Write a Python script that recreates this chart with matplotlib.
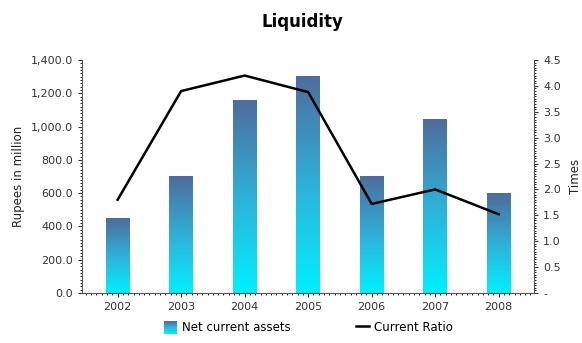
import numpy as np
import matplotlib.pyplot as plt
from matplotlib.colors import LinearSegmentedColormap
from matplotlib.patches import Rectangle
from matplotlib.lines import Line2D
from matplotlib.legend_handler import HandlerBase
from matplotlib.ticker import FuncFormatter, MultipleLocator

years = ["2002", "2003", "2004", "2005", "2006", "2007", "2008"]
net_current_assets = [450, 700, 1160, 1300, 700, 1040, 600]
current_ratio = [1.8, 3.9, 4.2, 3.88, 1.72, 2.0, 1.52]

plt.rcParams["font.family"] = ["DejaVu Sans"]

cmap = LinearSegmentedColormap.from_list("bar", ["#00f0ff", "#2fb0d8", "#4f6c9c"])
grad = np.linspace(0, 1, 256).reshape(-1, 1)


class GradientHandler(HandlerBase):
    # legend swatch drawn as a stack of thin strips, cyan at the bottom
    def create_artists(self, legend, orig_handle, xdescent, ydescent,
                       width, height, fontsize, trans):
        n = 12
        parts = []
        for i in range(n):
            r = Rectangle((-xdescent, -ydescent + height * i / n), width, height / n,
                          facecolor=cmap(i / (n - 1)), edgecolor="none",
                          transform=trans)
            parts.append(r)
        return parts


fig = plt.figure(figsize=(5.82, 3.43), dpi=100)
ax = fig.add_axes([0.141, 0.146, 0.777, 0.679])
x = np.arange(len(years))
width = 0.37

bars = ax.bar(x, net_current_assets, width, color="none", zorder=2)
for b in bars:
    x0, h = b.get_x(), b.get_height()
    ax.imshow(grad, cmap=cmap, origin="lower", aspect="auto",
              extent=[x0, x0 + b.get_width(), 0, h], zorder=2)

ax.set_xlim(-0.56, 6.56)
ax.set_ylim(0, 1400)
ax.set_xticks(x)
ax.set_xticklabels(years)
ax.yaxis.set_major_locator(MultipleLocator(200))
ax.yaxis.set_minor_locator(MultipleLocator(20))
ax.xaxis.set_minor_locator(MultipleLocator(1 / 12))
ax.yaxis.set_major_formatter(FuncFormatter(lambda v, p: f"{v:,.1f}"))
ax.set_ylabel("Rupees in million", fontsize=8.5, color="#222222")
ax.tick_params(axis="both", labelsize=8, colors="#333333", length=3)
ax.tick_params(which="minor", length=1.5)
for s in ["top", "right"]:
    ax.spines[s].set_visible(False)
ax.spines["left"].set_color("#555555")
ax.spines["bottom"].set_color("#555555")

ax2 = ax.twinx()
ax2.plot(x, current_ratio, color="black", lw=1.8, zorder=3)
ax2.set_ylim(0, 4.5)
ax2.yaxis.set_major_locator(MultipleLocator(0.5))
ax2.yaxis.set_minor_locator(MultipleLocator(0.05))
ax2.yaxis.set_major_formatter(FuncFormatter(lambda v, p: "-" if v == 0 else f"{v:.1f}"))
ax2.set_ylabel("Times", fontsize=8.5, color="#222222", rotation=90, labelpad=6)
ax2.tick_params(axis="y", labelsize=8, colors="#333333", length=3)
ax2.tick_params(which="minor", length=1.5)
for s in ["top", "left", "bottom"]:
    ax2.spines[s].set_visible(False)
ax2.spines["right"].set_color("#555555")

fig.text(0.52, 0.935, "Liquidity", ha="center", va="center",
         fontsize=12, fontweight="bold")

handles = [Rectangle((0, 0), 1, 1), Line2D([0], [0], color="black", lw=1.8)]
fig.legend(handles, ["Net current assets", "Current Ratio"],
           handler_map={Rectangle: GradientHandler()},
           loc="center", bbox_to_anchor=(0.53, 0.045), ncol=2, frameon=False,
           fontsize=8.5, handlelength=1.1, handleheight=1.3, columnspacing=5.5,
           handletextpad=0.4)

fig.savefig("out.png", dpi=100)
